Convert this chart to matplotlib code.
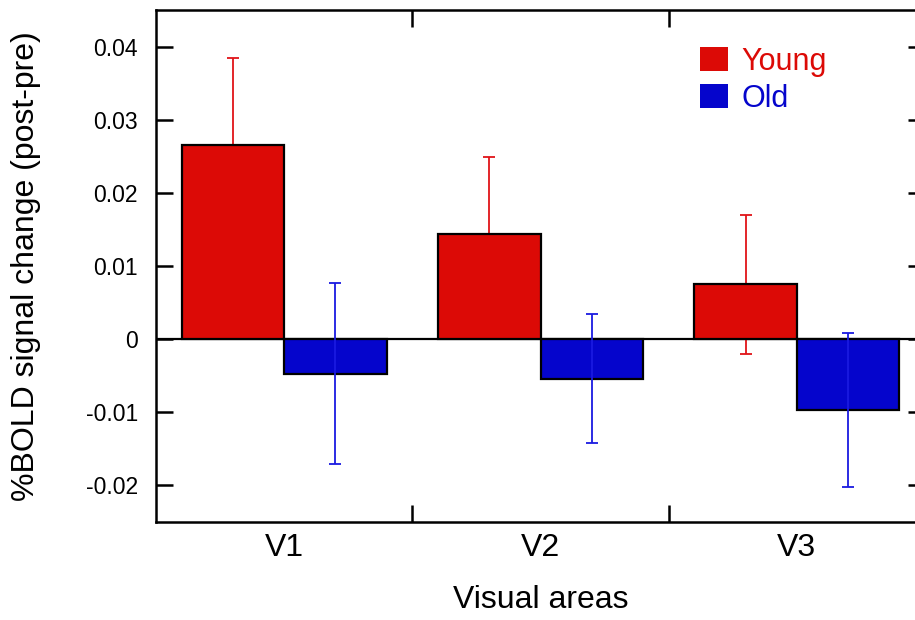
import matplotlib
matplotlib.use('Agg')
import matplotlib.pyplot as plt
from matplotlib.patches import Patch
import numpy as np

# Mean BOLD change per visual area, with error bars
areas = ['V1', 'V2', 'V3']
young_mean = [0.0265, 0.0144, 0.0075]
young_err = [0.0120, 0.0105, 0.0095]
old_mean = [-0.0047, -0.0054, -0.0097]
old_err = [0.0124, 0.0088, 0.0105]

y_ticks = [-0.02, -0.01, 0, 0.01, 0.02, 0.03, 0.04]
y_tick_labels = ['-0.02', '-0.01', '0', '0.01', '0.02', '0.03', '0.04']

RED = '#dc0a06'
BLUE = '#0505cc'
RED_ERR = '#e01418'
BLUE_ERR = '#1a1ae0'

plt.rcParams['font.family'] = ['Liberation Sans', 'DejaVu Sans']


def plot_bars():
    fig = plt.figure(figsize=(9.15, 6.2), dpi=100)
    ax = fig.add_axes([156 / 915, 1 - 522 / 620, 769 / 915, 512 / 620])

    centers = np.arange(len(areas)) + 0.5
    width = 0.4

    ax.axhline(0, color='black', linewidth=1.6, zorder=1)

    # red whiskers go under the bars, blue ones on top
    ax.errorbar(centers - width / 2, young_mean, yerr=young_err, fmt='none',
                ecolor=RED_ERR, elinewidth=1.3, capsize=4.5, capthick=1.3, zorder=1.5)

    ax.bar(centers - width / 2, young_mean, width, color=RED,
           edgecolor='black', linewidth=1.6, zorder=2)
    ax.bar(centers + width / 2, old_mean, width, color=BLUE,
           edgecolor='black', linewidth=1.6, zorder=2)

    ax.errorbar(centers + width / 2, old_mean, yerr=old_err, fmt='none',
                ecolor=BLUE_ERR, elinewidth=1.3, capsize=4.5, capthick=1.3, zorder=3)

    ax.set_xlim(0, 3)
    ax.set_ylim(-0.025, 0.045)

    # ticks sit between groups, labels sit under group centres
    ax.set_xticks([1, 2])
    ax.set_xticklabels([])
    ax.set_xticks(centers, minor=True)
    ax.set_xticklabels(areas, minor=True, fontsize=23)
    ax.tick_params(axis='x', which='major', direction='in', length=12,
                   width=1.8, top=True, bottom=True)
    ax.tick_params(axis='x', which='minor', length=0, pad=8)

    ax.set_yticks(y_ticks)
    ax.set_yticklabels(y_tick_labels, fontsize=16.5)
    ax.tick_params(axis='y', direction='in', length=12, width=1.8,
                   left=True, right=True, pad=13)

    for spine in ax.spines.values():
        spine.set_linewidth(1.8)

    ax.set_xlabel('Visual areas', fontsize=23, labelpad=16)
    ax.set_ylabel('%BOLD signal change (post-pre)', fontsize=23, labelpad=32)

    handles = [Patch(facecolor=RED, edgecolor='none'),
               Patch(facecolor=BLUE, edgecolor='none')]
    ax.legend(handles, ['Young', 'Old'], loc='upper left',
              bbox_to_anchor=(0.707, 0.928), frameon=False, fontsize=22,
              handlelength=0.92, handleheight=0.85, handletextpad=0.45,
              labelspacing=0.22, borderpad=0, borderaxespad=0,
              labelcolor=[RED, BLUE])

    fig.savefig('out.png', dpi=100)


if __name__ == '__main__':
    plot_bars()
